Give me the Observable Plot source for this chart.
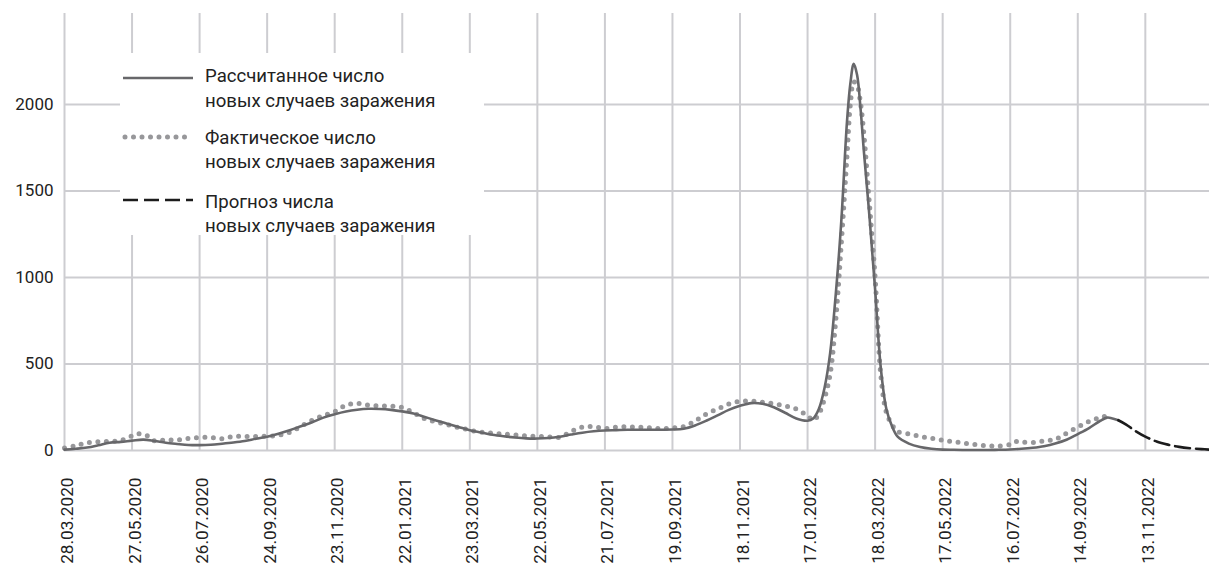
<!DOCTYPE html>
<html>
<head>
<meta charset="utf-8">
<script src="https://cdn.jsdelivr.net/npm/d3@7"></script>
<script src="https://cdn.jsdelivr.net/npm/@observablehq/plot@0.6"></script>
<style>
  html, body { margin: 0; padding: 0; background: #fff; }
  #wrap { position: relative; width: 1209px; height: 566px; overflow: hidden; font-family: Roboto, sans-serif; }
  #legend { position: absolute; left: 120px; top: 53px; width: 364px; height: 182px; background: #fff; }
  #legend svg { overflow: visible; }
  #legend text { font-family: Roboto, sans-serif; font-size: 18.6px; fill: #222; }
</style>
</head>
<body>
<div id="wrap">
  <div id="chart"></div>
  <div id="legend"></div>
</div>
<script>
// ---- data ----
const tickLabels = ["28.03.2020","27.05.2020","26.07.2020","24.09.2020","23.11.2020","22.01.2021","23.03.2021","22.05.2021","21.07.2021","19.09.2021","18.11.2021","17.01.2022","18.03.2022","17.05.2022","16.07.2022","14.09.2022","13.11.2022"];
const yTicks = [0, 500, 1000, 1500, 2000];
const xEnd = "09.01.2023";
const yMax = 2526;

const legendLabels = [
  ["Рассчитанное число", "новых случаев заражения"],
  ["Фактическое число", "новых случаев заражения"],
  ["Прогноз числа", "новых случаев заражения"]
];

// calculated (model) new cases
const calcDates = [
"28.03.2020","07.04.2020","17.04.2020","27.04.2020","07.05.2020","17.05.2020",
"27.05.2020","06.06.2020","16.06.2020","26.06.2020","06.07.2020","16.07.2020",
"26.07.2020","05.08.2020","15.08.2020","25.08.2020","04.09.2020","14.09.2020",
"24.09.2020","04.10.2020","14.10.2020","24.10.2020","03.11.2020","13.11.2020",
"23.11.2020","03.12.2020","13.12.2020","23.12.2020","02.01.2021","12.01.2021",
"22.01.2021","01.02.2021","11.02.2021","21.02.2021","03.03.2021","13.03.2021",
"23.03.2021","02.04.2021","12.04.2021","22.04.2021","02.05.2021","12.05.2021",
"22.05.2021","01.06.2021","11.06.2021","21.06.2021","01.07.2021","11.07.2021",
"21.07.2021","31.07.2021","10.08.2021","20.08.2021","30.08.2021","09.09.2021",
"19.09.2021","29.09.2021","09.10.2021","19.10.2021","29.10.2021","08.11.2021",
"18.11.2021","28.11.2021","08.12.2021","18.12.2021","28.12.2021","07.01.2022",
"17.01.2022","22.01.2022","27.01.2022","01.02.2022","06.02.2022","11.02.2022","16.02.2022","21.02.2022","24.02.2022","27.02.2022","02.03.2022","05.03.2022","08.03.2022","13.03.2022",
"18.03.2022","23.03.2022","28.03.2022","02.04.2022","07.04.2022","17.04.2022","27.04.2022","07.05.2022",
"17.05.2022","27.05.2022","06.06.2022","16.06.2022","26.06.2022","06.07.2022",
"16.07.2022","26.07.2022","05.08.2022","15.08.2022","25.08.2022","04.09.2022",
"14.09.2022","24.09.2022","04.10.2022","10.10.2022","14.10.2022","20.10.2022"
];
const calcValues = [
5, 10, 17, 30, 45, 50,
57, 63, 55, 45, 38, 32,
31, 33, 39, 46, 55, 68,
80, 97, 117, 140, 163, 190,
210, 226, 236, 241, 240, 235,
226, 214, 194, 174, 155, 136,
117, 104, 91, 82, 75, 70,
69, 72, 80, 92, 103, 111,
116, 118, 120, 120, 120, 120,
121, 126, 145, 172, 203, 235,
258, 274, 270, 250, 218, 185,
172, 185, 240, 360, 560, 900, 1330, 1900, 2120, 2235, 2170, 1980, 1730, 1350,
930, 480, 240, 140, 80, 40, 20, 10,
5, 4, 3, 3, 3, 4,
6, 10, 16, 25, 40, 62,
95, 130, 172, 190, 187, 175
];

// actual new cases
const actDates = [
"28.03.2020","07.04.2020","17.04.2020","27.04.2020","07.05.2020","17.05.2020",
"27.05.2020","01.06.2020","06.06.2020","11.06.2020","16.06.2020","26.06.2020","06.07.2020","16.07.2020",
"26.07.2020","05.08.2020","15.08.2020","25.08.2020","04.09.2020","14.09.2020",
"24.09.2020","04.10.2020","14.10.2020","24.10.2020","03.11.2020","13.11.2020",
"23.11.2020","03.12.2020","13.12.2020","23.12.2020","02.01.2021","12.01.2021",
"22.01.2021","01.02.2021","11.02.2021","21.02.2021","03.03.2021","13.03.2021",
"23.03.2021","02.04.2021","12.04.2021","22.04.2021","02.05.2021","12.05.2021",
"22.05.2021","01.06.2021","11.06.2021","21.06.2021","01.07.2021","11.07.2021",
"21.07.2021","31.07.2021","10.08.2021","20.08.2021","30.08.2021","09.09.2021",
"19.09.2021","29.09.2021","09.10.2021","19.10.2021","29.10.2021","08.11.2021",
"18.11.2021","28.11.2021","08.12.2021","18.12.2021","28.12.2021","07.01.2022",
"17.01.2022","22.01.2022","27.01.2022","01.02.2022","06.02.2022","11.02.2022","16.02.2022","21.02.2022","24.02.2022","27.02.2022","02.03.2022","05.03.2022","08.03.2022","13.03.2022",
"18.03.2022","23.03.2022","28.03.2022","02.04.2022","07.04.2022","17.04.2022","27.04.2022","07.05.2022",
"17.05.2022","27.05.2022","06.06.2022","16.06.2022","26.06.2022","06.07.2022",
"16.07.2022","21.07.2022","26.07.2022","05.08.2022","15.08.2022","25.08.2022","04.09.2022",
"14.09.2022","24.09.2022","04.10.2022","14.10.2022"
];
const actValues = [
15, 28, 45, 50, 53, 58,
85, 96, 92, 80, 55, 62, 60, 70,
75, 76, 68, 81, 81, 81,
83, 88, 105, 140, 175, 202,
225, 262, 273, 262, 258, 256,
248, 218, 183, 165, 150, 133,
118, 106, 100, 95, 90, 85,
82, 79, 77, 110, 135, 138,
127, 135, 137, 135, 132, 126,
130, 138, 170, 210, 240, 268,
284, 285, 279, 270, 258, 240,
200, 175, 210, 300, 440, 750, 1200, 1700, 2000, 2130, 2110, 2010, 1830, 1420,
1000, 440, 220, 150, 110, 95, 82, 70,
60, 50, 42, 33, 28, 25,
35, 52, 50, 46, 55, 65, 100,
135, 168, 190, 205
];

// forecast
const fcDates = ["20.10.2022","27.10.2022","03.11.2022","13.11.2022","23.11.2022","03.12.2022","13.12.2022","23.12.2022","02.01.2023","09.01.2023"];
const fcValues = [175, 150, 118, 80, 52, 34, 21, 13, 8, 5];

// ---- build ----
const parse = d3.utcParse("%d.%m.%Y");
const fmt = d3.utcFormat("%d.%m.%Y");
const toRows = (ds, vs) => ds.map((d, i) => ({date: parse(d), value: vs[i]}));
const calc = toRows(calcDates, calcValues);
const act = toRows(actDates, actValues);
const fc = toRows(fcDates, fcValues);
const ticks = tickLabels.map(parse);

const GRID = "#cdcdd1";
const C_CALC = "#67676a";
const C_ACT = "#97979a";
const C_FC = "#1c1c1c";

const chart = Plot.plot({
  width: 1209,
  height: 566,
  marginLeft: 64,
  marginRight: 0,
  marginTop: 13,
  marginBottom: 116,
  style: {fontFamily: "Roboto, sans-serif", background: "white", color: "#222"},
  x: {type: "utc", domain: [ticks[0], parse(xEnd)]},
  y: {domain: [0, yMax]},
  marks: [
    Plot.gridY(yTicks, {stroke: GRID, strokeOpacity: 1, strokeWidth: 2}),
    Plot.gridX(ticks, {stroke: GRID, strokeOpacity: 1, strokeWidth: 2}),
    Plot.axisY(yTicks, {tickSize: 0, tickPadding: 11, fontSize: 17, label: null, tickFormat: d => String(d)}),
    Plot.axisX(ticks, {tickSize: 0, tickPadding: 27, tickRotate: -90, fontSize: 17.2, tickFormat: fmt, label: null, dx: 3}),
    Plot.line(act, {x: "date", y: "value", stroke: C_ACT, strokeWidth: 5, strokeDasharray: "0 8.5", strokeLinecap: "round", curve: "catmull-rom"}),
    Plot.line(calc, {x: "date", y: "value", stroke: C_CALC, strokeWidth: 2.6, curve: "catmull-rom"}),
    Plot.line(fc, {x: "date", y: "value", stroke: C_FC, strokeWidth: 2.6, strokeDasharray: "15 6", curve: "catmull-rom"})
  ]
});
document.getElementById("chart").appendChild(chart);

// legend
const styles = [
  {stroke: C_CALC, width: 2.6, dash: null, cap: "butt"},
  {stroke: C_ACT, width: 5, dash: "0 8.5", cap: "round"},
  {stroke: C_FC, width: 2.6, dash: "15 6", cap: "butt"}
];
const markerY = [25, 84, 147];
const baseY = [[29, 54], [91, 115], [155, 179]];
const lg = d3.select("#legend").append("svg").attr("width", 364).attr("height", 182);
legendLabels.forEach((lines, i) => {
  const s = styles[i];
  const ln = lg.append("line")
    .attr("x1", s.cap === "round" ? 5 : 3).attr("x2", 73)
    .attr("y1", markerY[i]).attr("y2", markerY[i])
    .attr("stroke", s.stroke).attr("stroke-width", s.width)
    .attr("stroke-linecap", s.cap);
  if (s.dash) ln.attr("stroke-dasharray", s.dash);
  lines.forEach((t, j) => {
    lg.append("text").attr("x", 85).attr("y", baseY[i][j]).text(t);
  });
});
</script>
</body>
</html>
